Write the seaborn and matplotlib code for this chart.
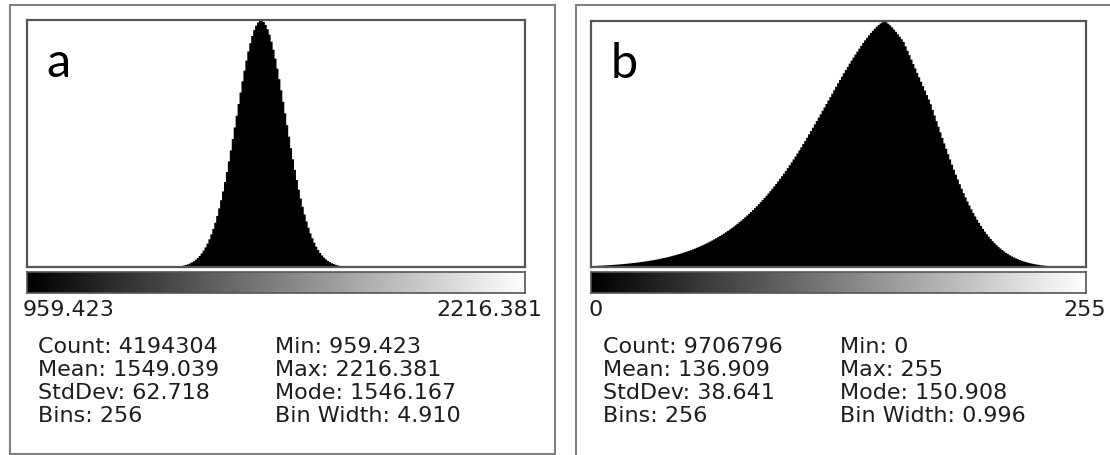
import matplotlib
matplotlib.use("Agg")
import numpy as np
import pandas as pd
import seaborn as sns
import matplotlib.pyplot as plt
from matplotlib.patches import Rectangle

# ---------------------------------------------------------------- data
# Panel a: 256-bin histogram, bin counts in thousands (bins 76..163 non-empty)
range_a = (959.423, 2216.381)
counts_a_k = [0] * 76 + [
    0.39, 0.50, 0.65, 0.84, 1.07, 1.36, 1.72, 2.15, 2.69, 3.33,
    4.11, 5.03, 6.13, 7.42, 8.92, 10.66, 12.67, 14.96, 17.55, 20.48,
    23.74, 27.35, 31.32, 35.66, 40.34, 45.34, 50.66, 56.26, 62.12, 68.13,
    74.29, 80.50, 86.70, 92.79, 98.73, 104.41, 109.74, 114.60, 118.97, 122.76,
    125.89, 128.31, 129.98, 131.02, 130.94, 130.2, 128.7, 126.4, 123.5, 119.8,
    115.5, 110.8, 105.5, 99.9, 94.0, 87.9, 81.8, 75.5, 69.4, 63.3,
    57.4, 51.8, 46.4, 41.3, 36.6, 32.2, 28.1, 24.4, 21.1, 18.1,
    15.5, 13.1, 11.0, 9.25, 7.70, 6.37, 5.24, 4.28, 3.48, 2.81,
    2.25, 1.80, 1.42, 1.12, 0.88, 0.68, 0.53, 0.41,
] + [0] * 92

# Panel b: 256-bin histogram, bin heights in per mille of the modal bin (bin 151)
range_b = (0.0, 255.0)
mode_count_b = 119900
rel_b = [
    6.0, 6.3, 6.7, 7.1, 7.5, 7.9, 8.3, 8.8, 9.3, 9.8, 10.3,
    10.8, 11.4, 12.0, 12.7, 13.3, 14.0, 14.8, 15.5, 16.3, 17.2,
    18.0, 19.0, 19.9, 20.9, 22.0, 23.0, 24.2, 25.4, 26.6, 27.9,
    29.2, 30.6, 32.1, 33.6, 35.2, 36.9, 38.6, 40.4, 42.2, 44.1,
    46.1, 48.2, 50.4, 52.6, 54.9, 57.4, 59.9, 62.5, 65.2, 68.0,
    70.8, 73.8, 76.9, 80.2, 83.5, 86.9, 90.5, 94.1, 97.9, 101.9,
    105.9, 110.1, 114.4, 118.9, 123.5, 128.2, 133.1, 138.1, 143.3, 148.6,
    154.1, 159.8, 165.6, 171.6, 177.7, 184.1, 190.5, 197.2, 204.1, 211.1,
    218.3, 225.7, 233.3, 241.1, 249.1, 257.2, 265.6, 274.2, 282.9, 291.9,
    301.0, 310.4, 320.0, 329.8, 339.8, 350.0, 360.4, 371.0, 381.8, 392.8,
    404.1, 415.5, 427.2, 439.1, 451.2, 463.5, 476.0, 488.7, 501.6, 514.7,
    527.8, 541.2, 554.7, 568.3, 581.9, 595.6, 609.3, 623.1, 636.9, 650.8,
    664.7, 678.7, 692.7, 706.7, 720.7, 734.7, 748.7, 762.5, 776.1, 789.5,
    802.7, 815.7, 828.5, 841.1, 853.5, 865.7, 877.7, 889.6, 901.2, 912.5,
    923.5, 934.0, 944.0, 953.5, 962.5, 971.0, 979.0, 986.0, 992.0, 997.0,
    1000.0,
    997.0, 991.0, 984.0, 976.0, 967.0, 958.0, 948.0, 938.0, 928.0, 917.0,
    899.0, 881.0, 863.0, 845.0, 827.0, 809.0, 791.0, 773.0, 755.0, 737.0,
    719.0, 701.0, 683.0, 663.6, 640.8, 617.9, 595.1, 572.2, 549.5, 526.9,
    504.5, 482.3, 460.5, 439.1, 418.0, 397.4, 377.3, 357.7, 338.6, 320.1,
    302.1, 284.8, 268.1, 252.0, 236.5, 221.7, 207.5, 193.9, 181.0, 168.6,
    156.9, 145.8, 135.3, 125.4, 116.0, 107.2, 98.9, 91.2, 83.9, 77.1,
    70.7, 64.8, 59.3, 54.1, 49.4, 45.0, 40.9, 37.2, 33.7, 30.5,
    27.6, 24.9, 22.5, 20.3, 18.2, 16.4, 14.7, 13.1, 11.8, 10.5,
    9.4, 8.3, 7.4, 6.6, 5.8, 5.2, 4.6, 4.0, 3.6, 3.1,
    2.8, 2.4, 2.1, 1.9, 1.6, 1.4, 1.2, 1.1, 0.9, 0.8,
    0.7, 0.6, 0.5, 0.5,
]
n_bins = 256
assert len(counts_a_k) == n_bins and len(rel_b) == n_bins

# Summary statistics printed under each histogram
panel_letters = ["a", "b"]
range_labels = [("959.423", "2216.381"), ("0", "255")]
stat_names_left = ["Count:", "Mean:", "StdDev:", "Bins:"]
stat_names_right = ["Min:", "Max:", "Mode:", "Bin Width:"]
stats_left = [["4194304", "1549.039", "62.718", "256"],
              ["9706796", "136.909", "38.641", "256"]]
stats_right = [["959.423", "2216.381", "1546.167", "4.910"],
               ["0", "255", "150.908", "0.996"]]

# ---------------------------------------------------------------- figure
sns.set_style("white")
plt.rcParams["font.family"] = ["DejaVu Sans"]

W, H = 1110, 455
fig = plt.figure(figsize=(W / 100, H / 100), dpi=100)
fig.patch.set_facecolor("white")


def px_axes(x0, y0, x1, y1):
    return fig.add_axes([x0 / W, 1 - y1 / H, (x1 - x0) / W, (y1 - y0) / H])


def px_text(x, y, s, **kw):
    fig.text(x / W, 1 - y / H, s, **kw)


def frame(x0, y0, x1, y1, color, lw):
    fig.patches.append(Rectangle((x0 / W, 1 - y1 / H), (x1 - x0) / W, (y1 - y0) / H,
                                 transform=fig.transFigure, fill=False,
                                 edgecolor=color, linewidth=lw, zorder=0))


panels = [
    dict(outer=(10, 5, 555, 454), plot=(27, 20, 525, 267),
         rng=range_a, heights=np.array(counts_a_k) * 1000,
         letter_xy=(46, 77), lo_x=23, hi_x=542, col1=38, col2=275),
    dict(outer=(576, 5, 1114, 459), plot=(591, 21, 1086, 267),
         rng=range_b, heights=np.array(rel_b) / 1000 * mode_count_b,
         letter_xy=(611, 78), lo_x=588, hi_x=1106, col1=603, col2=840),
]

text_kw = dict(fontsize=16, color="#1e1e1e", va="baseline")
row_baselines = [353, 376, 399, 422]

for k, p in enumerate(panels):
    frame(*p["outer"], color="#808080", lw=1.5)

    x0, y0, x1, y1 = p["plot"]
    lo, hi = p["rng"]
    width = (hi - lo) / n_bins
    centers = lo + (np.arange(n_bins) + 0.5) * width
    df = pd.DataFrame({"value": centers, "count": p["heights"]})

    ax = px_axes(x0, y0, x1, y1)
    sns.histplot(data=df, x="value", weights="count", bins=n_bins, binrange=(lo, hi),
                 element="step", fill=True, color="black", alpha=1, linewidth=0, ax=ax)
    ax.set_xlim(lo, hi)
    ax.set_ylim(0, df["count"].max())
    ax.set_xticks([])
    ax.set_yticks([])
    ax.set_xlabel("")
    ax.set_ylabel("")
    for s in ax.spines.values():
        s.set_visible(True)
        s.set_color("#555555")
        s.set_linewidth(1.6)

    # grey-level ramp under the histogram
    gax = px_axes(x0, 272, x1, 293)
    gax.imshow(np.linspace(0, 1, 256)[None, :], cmap="gray", vmin=0, vmax=1,
               aspect="auto", extent=(lo, hi, 0, 1))
    gax.set_xticks([])
    gax.set_yticks([])
    for s in gax.spines.values():
        s.set_color("#555555")
        s.set_linewidth(1.2)

    lo_lab, hi_lab = range_labels[k]
    px_text(p["lo_x"], 316, lo_lab, ha="left", **text_kw)
    px_text(p["hi_x"], 316, hi_lab, ha="right", **text_kw)

    for r, yb in enumerate(row_baselines):
        px_text(p["col1"], yb, f"{stat_names_left[r]} {stats_left[k][r]}", ha="left", **text_kw)
        px_text(p["col2"], yb, f"{stat_names_right[r]} {stats_right[k][r]}", ha="left", **text_kw)

    lx, ly = p["letter_xy"]
    px_text(lx, ly, panel_letters[k], ha="left", va="baseline", fontsize=35,
            family=["Lato", "DejaVu Sans"], color="black")

fig.savefig("out.png", dpi=100, facecolor="white")
